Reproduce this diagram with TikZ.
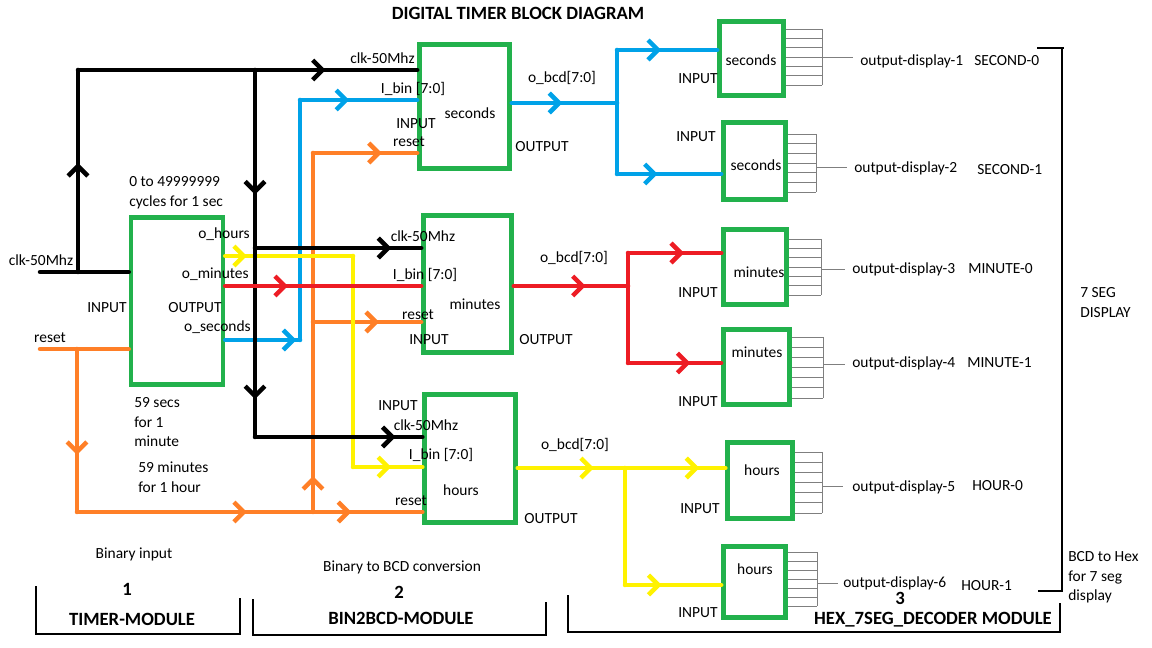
\documentclass[tikz,border=0pt]{standalone}
\usepackage{fontspec}
\setmainfont{Carlito}
\usetikzlibrary{decorations.markings, arrows.meta}
\definecolor{pgreen}{RGB}{34,177,76}
\definecolor{pblue}{RGB}{0,162,232}
\definecolor{porange}{RGB}{255,127,39}
\definecolor{pyellow}{RGB}{255,242,0}
\definecolor{pred}{RGB}{237,28,36}
\definecolor{pgray}{RGB}{127,127,127}
\begin{document}
\begin{tikzpicture}[x=0.025cm, y=-0.025cm,
          font=\fontsize{11}{14}\selectfont,
          wire/.style={line width=3.2pt, line join=round, line cap=round},
          flow/.style={postaction={decorate},
            decoration={markings, mark=at position #1 with {\arrow{Straight Barb[length=7pt, width=14pt]}}}},
          blk/.style={draw=pgreen, line width=3.2pt, inner sep=0pt},
          pin/.style={draw=pgray, line width=0.6pt},
          lbl/.style={inner sep=0pt, text height=1.5ex, text depth=0.3ex},
          note/.style={inner sep=0pt, align=left, anchor=north west},
          hdr/.style={lbl, font=\fontsize{13.3}{15}\selectfont\bfseries},
          brk/.style={line width=1pt},
        ]
          \useasboundingbox (0,0) rectangle (1152,648);
          \node[hdr] (title) at (518,15) {DIGITAL TIMER BLOCK DIAGRAM};

          \node[blk, minimum width=2.3cm, minimum height=4.18cm] (tmr) at (177,301) {};
          \node[blk, minimum width=2.25cm, minimum height=3.1cm] (sec) at (464.5,106.5) {};
          \node[blk, minimum width=2.2cm, minimum height=3.42cm] (min) at (467.5,284) {};
          \node[blk, minimum width=2.27cm, minimum height=3.2cm] (hrs) at (470,458.5) {};
          \node[blk, minimum width=1.6cm, minimum height=1.85cm] (dsa) at (751.5,58.5) {};
          \node[blk, minimum width=1.55cm, minimum height=1.92cm] (dsb) at (754.5,161) {};
          \node[blk, minimum width=1.57cm, minimum height=1.87cm] (dma) at (755,267) {};
          \node[blk, minimum width=1.65cm, minimum height=1.87cm] (dmb) at (756.5,367) {};
          \node[blk, minimum width=1.62cm, minimum height=1.9cm] (dha) at (760,480.5) {};
          \node[blk, minimum width=1.55cm, minimum height=1.77cm] (dhb) at (754.5,582) {};

          \coordinate (clkin) at (40,272);
          \coordinate (c1) at (78,272);
          \coordinate (c2) at (78,70);
          \coordinate (c3) at (255,70);
          \coordinate (c4) at (255,248);
          \coordinate (c5) at (255,437);
          \coordinate (rstin) at (40,349);
          \coordinate (r1) at (77,349);
          \coordinate (r2) at (77,512);
          \coordinate (r3) at (313,512);
          \coordinate (r4) at (313,322);
          \coordinate (r5) at (313,153);
          \coordinate (s1) at (300,340);
          \coordinate (s2) at (300,100);
          \coordinate (h1) at (353,256);
          \coordinate (h2) at (353,467);
          \coordinate (sb) at (617,103);
          \coordinate (st) at (617,50);
          \coordinate (sd) at (617,174);
          \coordinate (mb) at (628,286);
          \coordinate (mt) at (628,253);
          \coordinate (md) at (628,363);
          \coordinate (hb) at (625,468);
          \coordinate (hd) at (625,585);

          \draw[wire, porange] (rstin) -- (tmr.west |- rstin);
          \draw[wire, porange, flow=0.65] (r1) -- (r2);
          \draw[wire, porange, flow=0.72] (r2) -- (r3);
          \draw[wire, porange, flow=0.35] (r3) -- (hrs.west |- r3);
          \draw[wire, porange, flow=0.1] (r3) -- (r5);
          \draw[wire, porange, flow=0.61] (r4) -- (min.west |- r4);
          \draw[wire, porange, flow=0.66] (r5) -- (sec.west |- r5);

          \draw[wire, pblue, flow=0.95] (tmr.east |- s1) -- (s1);
          \draw[wire, pblue] (s1) -- (s2);
          \draw[wire, pblue, flow=0.42] (s2) -- (sec.west |- s2);

          \draw[wire, pyellow, flow=0.17] (tmr.east |- h1) -- (h1);
          \draw[wire, pyellow] (h1) -- (h2);
          \draw[wire, pyellow, flow=0.55] (h2) -- (hrs.west |- h2);

          \draw[wire] (clkin) -- (tmr.west |- clkin);
          \draw[wire, flow=0.54] (c1) -- (c2);
          \draw[wire, flow=0.73] (c2) -- (sec.west |- c2);
          \draw[wire, flow=0.70] (c3) -- (c4);
          \draw[wire, flow=0.80] (c4) -- (c5);
          \draw[wire, flow=0.82] (c4) -- (min.west |- c4);
          \draw[wire, flow=0.84] (c5) -- (hrs.west |- c5);

          \draw[wire, pred, flow=0.32] (tmr.east |- mb) -- (min.west |- mb);

          \draw[wire, pblue, flow=0.48] (sec.east |- sb) -- (sb);
          \draw[wire, pblue] (st) -- (sd);
          \draw[wire, pblue, flow=0.44] (st) -- (dsa.west |- st);
          \draw[wire, pblue, flow=0.39] (sd) -- (dsb.west |- sd);

          \draw[wire, pred, flow=0.63] (min.east |- mb) -- (mb);
          \draw[wire, pred] (mt) -- (md);
          \draw[wire, pred, flow=0.6] (mt) -- (dma.west |- mt);
          \draw[wire, pred, flow=0.67] (md) -- (dmb.west |- md);

          \draw[wire, pyellow, flow=0.71] (hrs.east |- hb) -- (hb);
          \draw[wire, pyellow] (hb) -- (hd);
          \draw[wire, pyellow, flow=0.74] (hb) -- (dha.west |- hb);
          \draw[wire, pyellow, flow=0.38] (hd) -- (dhb.west |- hd);

          \foreach \b/\ya/\yb/\bx/\yo/\xo in {dsa/29/85/822/57/853, dsb/134/192/816/167/847,
              dma/239/295/821/269/845, dmb/337/398/823/364/845,
              dha/452/513/822/486/843, dhb/552/606/817/583/838} {
            \foreach \k in {0,...,6} {
              \pgfmathsetmacro{\yk}{\ya+\k*(\yb-\ya)/6}
              \draw[pin] (\b.east |- 0,\yk) -- (\bx,\yk);
            }
            \draw[pin] (\bx,\ya) -- (\bx,\yb);
            \draw[pin] (\bx,\yo) -- (\xo,\yo);
          }

          \node[lbl] (tclk) at (41,261) {clk-50Mhz};
          \node[lbl] (trst) at (50,338) {reset};
          \node[note] (tcnt) at (129,176) {0 to 49999999\\cycles for 1 sec};
          \node[lbl, anchor=east] (tohr) at (250,234) {o\_hours};
          \node[lbl, anchor=east] (tomn) at (249,274) {o\_minutes};
          \node[lbl] (tin) at (107,308) {INPUT};
          \node[lbl] (tout) at (195,308) {OUTPUT};
          \node[lbl, anchor=east] (tosc) at (251,327) {o\_seconds};
          \node[note] (tsec) at (134,397) {59 secs\\for 1\\minute};
          \node[note] (tmnt) at (138,462) {59 minutes\\for 1 hour};

          \node[lbl, anchor=east] (sclk) at (415,59) {clk-50Mhz};
          \node[lbl] (sbin) at (413,89) {I\_bin [7:0]};
          \node[lbl] (sin) at (416,124) {INPUT};
          \node[lbl] (srst) at (409,142) {reset};
          \node[lbl] (sname) at (470,114) {seconds};
          \node[lbl] (sout) at (542,147) {OUTPUT};
          \node[lbl] (sbcd) at (562,78) {o\_bcd[7:0]};

          \node[lbl] (mclk) at (423,237) {clk-50Mhz};
          \node[lbl] (mbin) at (425,275) {I\_bin [7:0]};
          \node[lbl] (mrst) at (418,315) {reset};
          \node[lbl] (mname) at (475,305) {minutes};
          \node[lbl] (mi) at (429,340) {INPUT};
          \node[lbl] (mout) at (546,340) {OUTPUT};
          \node[lbl] (mbcd) at (574,258) {o\_bcd[7:0]};

          \node[lbl] (hin) at (398,406) {INPUT};
          \node[lbl] (hclk) at (426,426) {clk-50Mhz};
          \node[lbl] (hbin) at (441,455) {I\_bin [7:0]};
          \node[lbl] (hname) at (461,491) {hours};
          \node[lbl] (hrst) at (411,501) {reset};
          \node[lbl] (hout) at (551,519) {OUTPUT};
          \node[lbl] (hbcd) at (575,445) {o\_bcd[7:0]};

          \foreach \n/\t/\x/\y/\ix/\iy in {dsa/seconds/751/61/698/79, dsb/seconds/756/166/696/137,
              dma/minutes/759/273/698/293, dmb/minutes/757/353/698/402,
              dha/hours/762/471/700/509, dhb/hours/755/570/698/613} {
            \node[lbl] (\n-name) at (\x,\y) {\t};
            \node[lbl] (\n-in) at (\ix,\iy) {INPUT};
          }

          \foreach \n/\k/\x/\y/\t/\tx/\ty in {a/1/860/61/SECOND-0/974/61, b/2/854/168/SECOND-1/977/170,
              c/3/852/269/MINUTE-0/968/269, d/4/852/363/MINUTE-1/967/363,
              e/5/852/487/HOUR-0/972/486, f/6/843/583/HOUR-1/961/586} {
            \node[lbl, anchor=west] (out\n) at (\x,\y) {output-display-\k};
            \node[lbl, anchor=west] (dig\n) at (\tx,\ty) {\t};
          }

          \draw[brk] (1037,48) -- (1064,48);
          \draw[brk] (1062,48) -- (1062,591) -- (1038,591);
          \node[note] (seg) at (1080,287) {7 SEG\\DISPLAY};
          \node[note] (bcdhex) at (1068,551) {BCD to Hex\\for 7 seg\\display};

          \node[lbl] (mod1d) at (134,554) {Binary input};
          \node[hdr] (mod1n) at (127,591) {1};
          \node[hdr] (mod1) at (132,621) {TIMER-MODULE};
          \node[lbl] (mod2d) at (402,567) {Binary to BCD conversion};
          \node[hdr] (mod2n) at (399,594) {2};
          \node[hdr] (mod2) at (401,620) {BIN2BCD-MODULE};
          \node[hdr] (mod3n) at (900,600) {3};
          \node[hdr] (mod3) at (933,620) {HEX\_7SEG\_DECODER MODULE};
          \draw[brk] (36,586) -- (36,634) -- (240,634) -- (240,598);
          \draw[brk] (253,599) -- (253,635) -- (546,635) -- (546,602);
          \draw[brk] (568,595) -- (568,632) -- (1060,632) -- (1060,603);
        \end{tikzpicture}
\end{document}
